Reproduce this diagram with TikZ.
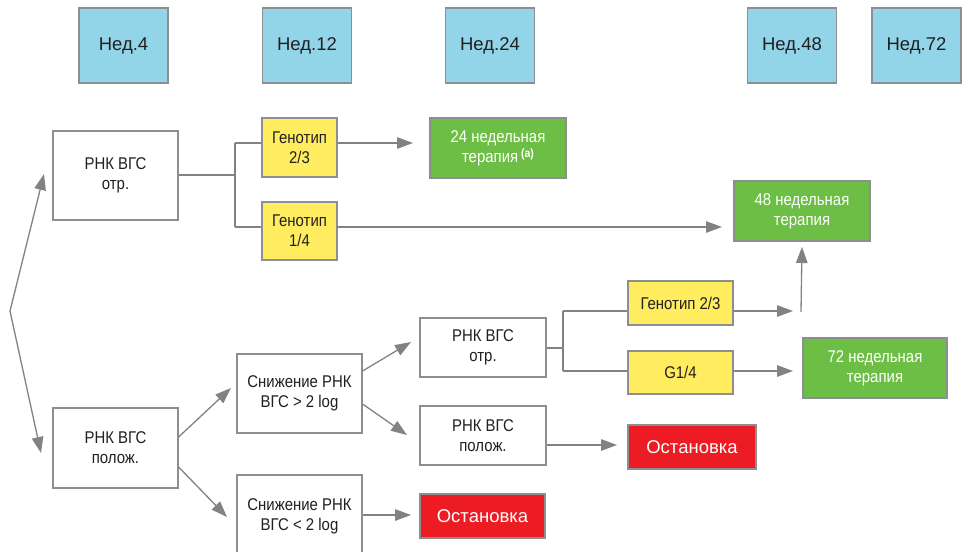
\documentclass[tikz,border=0pt]{standalone}
\usepackage{fontspec}
\setmainfont{Liberation Sans}
\newfontfamily\narrowfont{Liberation Sans}[FakeStretch=0.88]
\usetikzlibrary{arrows.meta}

\definecolor{headblue}{RGB}{147,213,232}
\definecolor{edgegray}{RGB}{140,142,145}
\definecolor{linegray}{RGB}{128,130,133}
\definecolor{genoyellow}{RGB}{255,236,95}
\definecolor{therapygreen}{RGB}{109,190,69}
\definecolor{stopred}{RGB}{237,28,36}
\definecolor{ink}{RGB}{35,31,32}

\begin{document}
\begin{tikzpicture}[x=1pt,y=-1pt,
  box/.style={draw=edgegray, line width=1.2pt, fill=white, inner sep=0pt, align=center,
    text=ink, font=\narrowfont\fontsize{17}{20}\selectfont},
  head/.style={box, fill=headblue, minimum width=89pt, minimum height=75pt,
    font=\fontsize{18.5}{21}\selectfont},
  geno/.style={box, fill=genoyellow},
  therapy/.style={box, fill=therapygreen, text=white, minimum width=136pt, minimum height=60pt},
  halt/.style={box, fill=stopred, text=white, minimum height=44pt,
    font=\fontsize{18.5}{21}\selectfont},
  link/.style={draw=linegray, line width=1.3pt},
  arrow/.style={link, -{Triangle[length=16pt,width=11.5pt]}},
]
\useasboundingbox (0,0) rectangle (962,552);
\clip (0,0) rectangle (962,552);

% week headers
\node[head] (w4)  at (123.5,45.5) {Нед.4};
\node[head] (w12) at (307,45.5)   {Нед.12};
\node[head] (w24) at (490,45.5)   {Нед.24};
\node[head] (w48) at (792,45.5)   {Нед.48};
\node[head] (w72) at (916.5,45.5) {Нед.72};

% week 4 results
\node[box, minimum width=125pt, minimum height=89pt] (neg4) at (115.5,175.5) {РНК ВГС\\отр.};
\node[box, minimum width=125pt, minimum height=80pt] (pos4) at (115.5,448) {РНК ВГС\\полож.};

% genotype split after week 4
\node[geno, minimum width=75pt, minimum height=59pt] (g23a) at (299.5,147.5) {Генотип\\2/3};
\node[geno, minimum width=75pt, minimum height=58pt] (g14a) at (299.5,231) {Генотип\\1/4};

% viral load decline at week 12
\node[box, minimum width=125pt, minimum height=79pt] (dropHi) at (299.5,393.5) {Снижение РНК\\ВГС > 2 log};
\node[box, minimum width=125pt, minimum height=82pt] (dropLo) at (299.5,516) {Снижение РНК\\ВГС < 2 log};

% week 24 results
\node[box, minimum width=126pt, minimum height=59pt] (neg24) at (483,347.5) {РНК ВГС\\отр.};
\node[box, minimum width=126pt, minimum height=59pt] (pos24) at (483,435.5) {РНК ВГС\\полож.};

% genotype split after week 24
\node[geno, minimum width=105pt, minimum height=44pt] (g23b) at (680.5,303) {Генотип 2/3};
\node[geno, minimum width=105pt, minimum height=43pt] (g14b) at (680.5,372.5) {G1/4};

% outcomes
\node[therapy] (t24) at (498,148) {24 недельная\\терапия\,\raisebox{5pt}{\fontsize{12}{12}\selectfont\bfseries(a)}};
\node[therapy] (t48) at (802,211) {48 недельная\\терапия};
\node[therapy, minimum width=144pt] (t72) at (875,368) {72 недельная\\терапия};
\node[halt, minimum width=128pt] (stop24) at (692,447) {Остановка};
\node[halt, minimum width=125pt] (stop12) at (482.5,516) {Остановка};

% connector points
\coordinate (fork) at (10,311);
\coordinate (negTip) at (44,174);
\coordinate (posTip) at (41,453);
\coordinate (jA) at (235,175);
\coordinate (jAtop) at (235,143);
\coordinate (jAbot) at (235,227);
\coordinate (jB) at (563,348);
\coordinate (jBtop) at (563,311);
\coordinate (jBbot) at (563,371);

% start fork
\draw[arrow] (fork) -- (negTip);
\draw[arrow] (fork) -- (posTip);

% negative at week 4
\draw[link] (neg4.east |- jA) -- (jA);
\draw[link] (jAtop) -- (jAbot);
\draw[link] (jAtop) -- (jAtop -| g23a.west);
\draw[link] (jAbot) -- (jAbot -| g14a.west);
\draw[arrow] (jAtop -| g23a.east) -- (413,143);
\draw[arrow] (jAbot -| g14a.east) -- (722,227);

% positive at week 4
\draw[arrow] (pos4.east |- 0,437) -- (231,388);
\draw[arrow] (pos4.east |- 0,467) -- (227,517);

% decline branches
\draw[arrow] (dropHi.east |- 0,371) -- (411,342);
\draw[arrow] (dropHi.east |- 0,404) -- (407,435);
\draw[arrow] (dropLo.east |- 0,515) -- (411,515);

% negative at week 24
\draw[link] (neg24.east |- jB) -- (jB);
\draw[link] (jBtop) -- (jBbot);
\draw[link] (jBtop) -- (jBtop -| g23b.west);
\draw[link] (jBbot) -- (jBbot -| g14b.west);
\draw[arrow] (jBtop -| g23b.east) -- (793,311);
\draw[arrow] (801,312) -- (t48.south |- 0,247);
\draw[arrow] (jBbot -| g14b.east) -- (793,371);

% positive at week 24
\draw[arrow] (pos24.east |- 0,445) -- (617,445);
\end{tikzpicture}
\end{document}
